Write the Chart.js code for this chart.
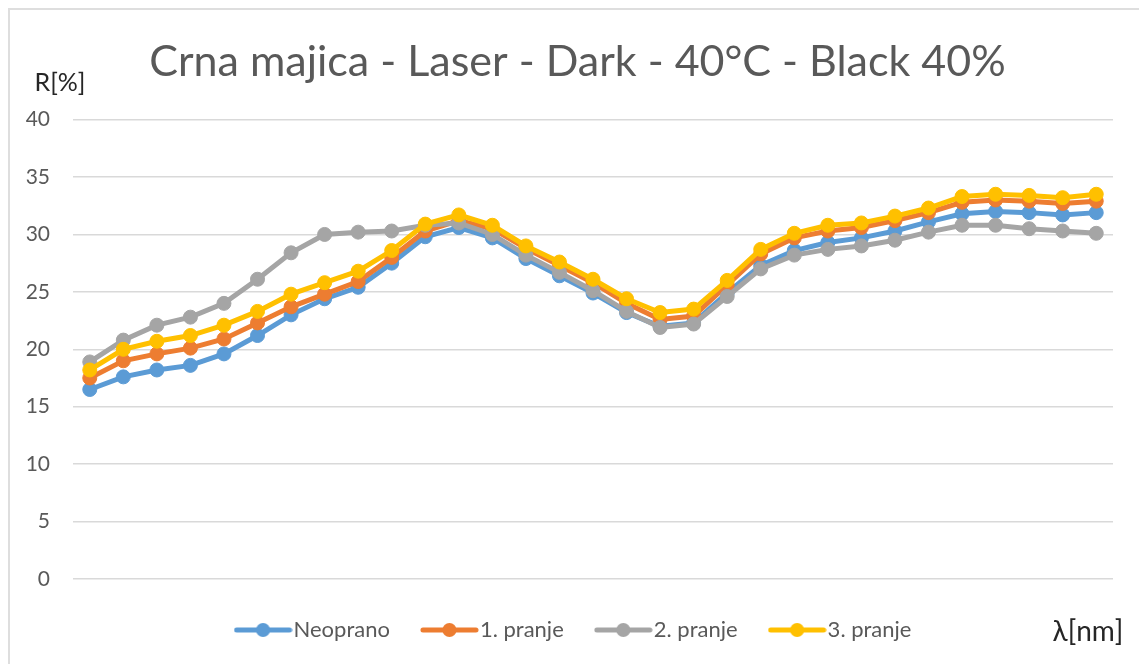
<!DOCTYPE html>
<html lang="hr">
<head>
  <meta charset="UTF-8">
  <title>Crna majica - Laser - Dark - 40°C - Black 40%</title>
  <script src="https://cdn.jsdelivr.net/npm/chart.js"></script>
  <style>
    html, body { margin: 0; padding: 0; background: #fff; overflow: hidden; }
    .frame {
      position: absolute; left: 8px; top: 8px;
      width: 1160px; height: 700px;
      border: 2px solid #dedede;
    }
    .chart-container {
      position: absolute; left: 0; top: 0;
      width: 1139px; height: 664px;
    }
  </style>
</head>
<body>
  <div class="frame"></div>
  <div class="chart-container"><canvas id="chart"></canvas></div>

<script>
  // valne duljine 400-700 nm, korak 10 nm
  const wavelengths = [400, 410, 420, 430, 440, 450, 460, 470, 480, 490, 500,
                       510, 520, 530, 540, 550, 560, 570, 580, 590, 600,
                       610, 620, 630, 640, 650, 660, 670, 680, 690, 700];

  // refleksija R[%]
  const neoprano = [16.5, 17.6, 18.2, 18.6, 19.6, 21.2, 23.0, 24.4, 25.4, 27.5, 29.8,
                    30.6, 29.7, 27.9, 26.4, 24.9, 23.2, 22.0, 22.3, 24.9, 27.3,
                    28.6, 29.3, 29.7, 30.3, 31.1, 31.8, 32.0, 31.9, 31.7, 31.9];
  const pranje1  = [17.5, 19.0, 19.6, 20.1, 20.9, 22.3, 23.7, 24.8, 25.9, 28.0, 30.3,
                    31.2, 30.5, 28.8, 27.3, 25.8, 24.0, 22.6, 22.9, 25.6, 28.3,
                    29.7, 30.3, 30.6, 31.2, 31.9, 32.8, 33.0, 32.9, 32.7, 32.9];
  const pranje2  = [18.9, 20.8, 22.1, 22.8, 24.0, 26.1, 28.4, 30.0, 30.2, 30.3, 30.8,
                    31.0, 30.0, 28.2, 26.7, 25.1, 23.3, 21.9, 22.2, 24.6, 27.0,
                    28.2, 28.7, 29.0, 29.5, 30.2, 30.8, 30.8, 30.5, 30.3, 30.1];
  const pranje3  = [18.2, 20.0, 20.7, 21.2, 22.1, 23.3, 24.8, 25.8, 26.8, 28.6, 30.9,
                    31.7, 30.8, 29.0, 27.6, 26.1, 24.4, 23.2, 23.5, 26.0, 28.7,
                    30.1, 30.8, 31.0, 31.6, 32.3, 33.3, 33.5, 33.4, 33.2, 33.5];

  const seriesNames  = ['Neoprano', '1. pranje', '2. pranje', '3. pranje'];
  const seriesData   = [neoprano, pranje1, pranje2, pranje3];
  const seriesColors = ['#5B9BD5', '#ED7D31', '#A5A5A5', '#FFC000'];

  const FONT = "Lato, 'Open Sans', sans-serif";
  const GREY_TEXT = '#595959';

  // legend icon: line with a dot in the middle
  const BOX_W = 39, ICON_EXTRA = 10;
  function legendIcon(color) {
    const c = document.createElement('canvas');
    c.width = BOX_W + ICON_EXTRA * 2;
    c.height = 16;
    const g = c.getContext('2d');
    g.strokeStyle = color;
    g.lineWidth = 5;
    g.lineCap = 'round';
    g.beginPath();
    g.moveTo(3, 8);
    g.lineTo(c.width - 3, 8);
    g.stroke();
    g.fillStyle = color;
    g.beginPath();
    g.arc(c.width / 2, 8, 7, 0, Math.PI * 2);
    g.fill();
    return c;
  }
  const icons = seriesColors.map(legendIcon);

  // axis unit labels: R[%] above the y axis, λ[nm] next to the legend
  const unitLabels = {
    id: 'unitLabels',
    afterDraw(chart) {
      const ctx = chart.ctx;
      const area = chart.chartArea;
      ctx.save();
      ctx.fillStyle = '#262626';
      ctx.textAlign = 'center';
      ctx.textBaseline = 'middle';
      ctx.font = '25px ' + FONT;
      ctx.fillText('R[%]', 60, area.top - 37);
      ctx.font = '28px ' + FONT;
      ctx.fillText('λ[nm]', 1088, area.bottom + 53);
      ctx.restore();
    }
  };

  const datasets = seriesNames.map((name, i) => ({
    label: name,
    data: seriesData[i],
    borderColor: seriesColors[i],
    backgroundColor: seriesColors[i],
    pointBackgroundColor: seriesColors[i],
    pointBorderColor: seriesColors[i],
    borderWidth: 5,
    pointRadius: 7,
    pointBorderWidth: 1,
    tension: 0,
    fill: false,
    // later series drawn on top
    order: seriesNames.length - i
  }));

  new Chart(document.getElementById('chart').getContext('2d'), {
    type: 'line',
    data: { labels: wavelengths, datasets: datasets },
    plugins: [unitLabels],
    options: {
      responsive: true,
      maintainAspectRatio: false,
      animation: false,
      layout: { padding: { left: 16, right: 0, top: 0, bottom: 13 } },
      scales: {
        x: {
          offset: true,
          ticks: { display: false },
          grid: { display: false },
          border: { display: false },
          afterFit(scale) { scale.height = 0; }
        },
        y: {
          min: 0,
          max: 40,
          ticks: { stepSize: 5, padding: 23, color: GREY_TEXT, font: { family: FONT, size: 21 } },
          grid: { color: '#d9d9d9', lineWidth: 1.5, drawTicks: false },
          border: { display: false },
          afterFit(scale) { scale.width = 57; }
        },
        // empty right axis, keeps the plot off the right edge
        yRight: {
          position: 'right',
          ticks: { display: false },
          grid: { display: false },
          border: { display: false },
          afterFit(scale) { scale.width = 26; }
        }
      },
      plugins: {
        title: {
          display: true,
          text: 'Crna majica - Laser - Dark - 40°C - Black 40%',
          color: GREY_TEXT,
          font: { family: FONT, size: 43, weight: 'normal' },
          padding: { top: 36, bottom: 32 }
        },
        legend: {
          position: 'bottom',
          labels: {
            color: GREY_TEXT,
            font: { family: FONT, size: 22 },
            usePointStyle: true,
            pointStyleWidth: BOX_W,
            padding: 40,
            generateLabels(chart) {
              const items = Chart.defaults.plugins.legend.labels.generateLabels(chart);
              items.sort((a, b) => a.datasetIndex - b.datasetIndex);
              items.forEach(it => { it.pointStyle = icons[it.datasetIndex]; });
              return items;
            }
          }
        },
        tooltip: { enabled: false }
      }
    }
  });
</script>
</body>
</html>
